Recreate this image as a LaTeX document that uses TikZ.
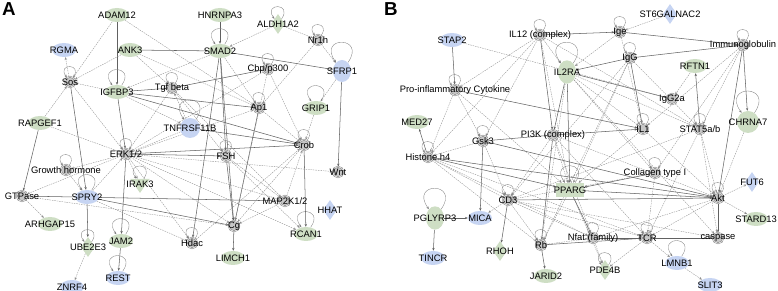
\documentclass[tikz,border=0pt]{standalone}
\usepackage{fontspec}
\setmainfont{Liberation Sans}
\usetikzlibrary{arrows.meta,shapes.geometric}
\pgfdeclarelayer{bg}\pgfsetlayers{bg,main}
\definecolor{gfill}{RGB}{206,222,196}
\definecolor{bfill}{RGB}{198,212,242}
\tikzset{>={Stealth[length=2.4pt,width=2pt]},every node/.style={font=\fontsize{8}{8}\selectfont},
gn/.style={ellipse,fill=gfill,minimum width=7.2mm,minimum height=4.2mm,inner sep=0pt},
bn/.style={gn,fill=bfill},
gv/.style={gn,minimum width=5.4mm,minimum height=7mm},bv/.style={gv,fill=bfill,minimum height=6.6mm},
gc/.style={circle,fill=gfill,minimum size=6.6mm,inner sep=0pt},bc/.style={gc,fill=bfill,minimum size=6mm},
grect/.style={rectangle,fill=gfill,minimum width=8.4mm,minimum height=4.2mm,inner sep=0pt},
gdia/.style={diamond,fill=gfill,minimum width=4.2mm,minimum height=6mm,inner sep=0pt},bdia/.style={gdia,fill=bfill},
kin/.style={isosceles triangle,isosceles triangle apex angle=70,shape border rotate=-90,fill=gfill,minimum height=4.2mm,inner sep=0pt},
gx/.style={circle,draw=black!55,double=white,double distance=.5pt,fill=black!22,minimum size=3.2mm,inner sep=0pt},
lbl/.style={inner sep=0pt},
rel/.style={->,draw=black!45,line width=.3pt,dash pattern=on 1.3pt off .8pt},
dir/.style={->,draw=black!62,line width=.45pt},
slp/.style={->,draw=black!50,line width=.3pt,loop,out=55,in=125,min distance=4.2mm,looseness=7},
panel/.style={font=\fontsize{16}{16}\selectfont\bfseries}}
\newcommand{\nd}[4]{\node[#1] (#2) at (#3) {};\node[lbl] at (#2) {#4};}

\begin{document}
\begin{tikzpicture}[x=.03cm,y=-.03cm]
\useasboundingbox (0,0) rectangle (778,291);
\node[panel] at (9,9){A};\node[panel] at (391,9){B};
% network A
\nd{gn}{adam}{117,15}{ADAM12}\nd{gn}{ank}{130,50}{ANK3}\nd{bn}{rgma}{64,50}{RGMA}\nd{gx}{sos}{70,82}{Sos}
\nd{gn}{igf}{117,92}{IGFBP3}\nd{gx}{tgf}{172,88}{Tgf beta}\nd{gn}{hnr}{220,15}{HNRNPA3}\nd{gdia}{ald}{278,24}{ALDH1A2}
\nd{gn}{smad}{220,51}{SMAD2}\nd{gx}{nr}{318,40}{Nr1h}\nd{gx}{cbp}{268,69}{Cbp/p300}\nd{bv}{sfrp}{342,71}{SFRP1}
\nd{gx}{ap}{259,108}{Ap1}\nd{gn}{grip}{316,108}{GRIP1}\nd{bc}{tnf}{190,128}{TNFRSF11B}\nd{gn}{rap}{40,123}{RAPGEF1}
\nd{gx}{erk}{126,154}{ERK1/2}\nd{gx}{gh}{66,170}{Growth hormone}\nd{kin}{irak}{140,184}{IRAK3}\nd{gx}{gtp}{22,196}{GTPase}
\nd{bn}{spry}{87,197}{SPRY2}\nd{gn}{arh}{50,224}{ARHGAP15}\nd{gdia}{ube}{88,247}{UBE2E3}\nd{gn}{jam}{121,241}{JAM2}
\nd{bn}{rest}{118,278}{REST}\nd{bn}{znrf}{72,287}{ZNRF4}\nd{gx}{hdac}{192,243}{Hdac}\nd{gx}{fsh}{226,156}{FSH}
\nd{gx}{crob}{304,145}{Crob}\nd{gx}{wnt}{338,172}{Wnt}\nd{gx}{map}{285,201}{MAP2K1/2}\nd{bdia}{hhat}{330,210}{HHAT}
\nd{gx}{cg}{234,226}{Cg}\nd{gn}{rcan}{306,234}{RCAN1}\nd{gn}{lim}{233,258}{LIMCH1}
% network B
\nd{bn}{stap}{452,40}{STAP2}\nd{gx}{il12}{540,35}{IL12 (complex)}\nd{bdia}{st6}{670,14}{ST6GALNAC2}\nd{gx}{ige}{620,32}{Ige}
\nd{gx}{imm}{743,45}{Immunoglobulin}\nd{gx}{igg}{630,58}{IgG}\nd{gv}{il2}{567,72}{IL2RA}\nd{gn}{rftn}{695,66}{RFTN1}
\nd{gx}{igga}{672,99}{IgG2a}\nd{gx}{pro}{455,90}{Pro-inflammatory Cytokine}\nd{gn}{med}{417,122}{MED27}\nd{gx}{gsk}{483,141}{Gsk3}
\nd{gx}{pik}{553,135}{PI3K (complex)}\nd{gx}{ila}{643,129}{IL1}\nd{gx}{stat}{700,129}{STAT5a/b}\nd{gc}{chr}{748,122}{CHRNA7}
\nd{gx}{his}{428,157}{Histone h4}\nd{gx}{col}{655,173}{Collagen type I}\nd{grect}{ppar}{570,190}{PPARG}\nd{gx}{akt}{718,198}{Akt}
\nd{bdia}{fut}{752,182}{FUT6}\nd{gn}{stard}{756,219}{STARD13}\nd{gx}{cdt}{508,200}{CD3}\nd{gv}{pgl}{435,218}{PGLYRP3}
\nd{bn}{mica}{480,218}{MICA}\nd{gdia}{rhoh}{500,251}{RHOH}\nd{gx}{rb}{541,245}{Rb}\nd{gx}{nfat}{593,238}{Nfat (family)}
\nd{gx}{tcr}{647,238}{TCR}\nd{gx}{casp}{718,238}{caspase}\nd{gn}{jar}{546,276}{JARID2}\nd{bn}{lmnb}{677,263}{LMNB1}
\nd{gdia}{pde}{605,270}{PDE4B}\nd{bn}{slit}{710,285}{SLIT3}\nd{bn}{tin}{433,258}{TINCR}
\begin{pgfonlayer}{bg}
\foreach \a/\b in {adam/igf,ank/smad,hnr/smad,smad/sfrp,smad/cg,smad/hdac,igf/tgf,igf/ap,igf/crob,igf/erk,tgf/cbp,sos/spry,rap/gtp,erk/fsh,erk/crob,erk/jam,gtp/map,spry/ube,spry/cg,jam/rest,fsh/cg,tnf/crob,crob/rcan,sfrp/wnt,cg/lim,ap/cg,smad/fsh}
  \draw[dir] (\a)--(\b);
\foreach \a/\b in {sos/rgma,adam/sos,ank/sos,ank/tgf,rap/sos,igf/sos,ald/smad,ald/nr,nr/sfrp,nr/ap,cbp/crob,cbp/erk,grip/crob,tnf/tgf,tnf/erk,erk/gh,erk/gtp,erk/map,erk/cg,erk/rcan,erk/hdac,erk/ap,erk/irak,gh/spry,gtp/arh,spry/erk,spry/hdac,ube/znrf,map/crob,map/cg,crob/cg,fsh/map,rap/erk,adam/ap,smad/igf,smad/ap,tgf/erk,tgf/fsh,igf/tnf,ap/crob,tgf/map,cbp/cg,sfrp/grip,gtp/cg,ank/ap,hdac/crob,sos/erk,fsh/rcan,erk/wnt}
  \draw[rel] (\a)--(\b);
\foreach \n in {sos,igf,tgf,smad,ald,nr,cbp,sfrp,ap,grip,tnf,erk,gh,irak,spry,ube,jam,rest,hdac,fsh,crob,rcan}
  \draw[slp] (\n) to (\n);
\foreach \a/\b in {stap/pro,il12/ige,il12/pik,ige/imm,igg/imm,igg/ila,igg/il2,il2/igga,il2/pik,il2/ppar,imm/chr,imm/akt,pro/ila,his/med,gsk/pik,gsk/akt,gsk/mica,pik/ila,pik/rb,his/ppar,his/akt,col/ppar,ppar/nfat,ppar/akt,cdt/akt,cdt/rhoh,pgl/mica,pgl/tin,rb/jar,rb/tcr,nfat/tcr,tcr/casp,akt/casp,stat/rftn}
  \draw[dir] (\a)--(\b);
\foreach \a/\b in {stap/igga,il12/pro,il12/gsk,il12/his,il12/il2,il12/stat,il12/ppar,st6/ige,ige/il2,igg/ppar,igg/cdt,igg/stat,il2/stat,il2/col,il2/rb,il2/ila,rftn/igga,imm/stat,imm/ila,imm/col,chr/akt,pro/his,pro/gsk,pro/ppar,gsk/his,gsk/cdt,pik/ppar,pik/cdt,pik/nfat,pik/akt,pik/tcr,ila/ppar,ila/akt,stat/akt,stat/casp,stat/cdt,stat/tcr,col/tcr,col/cdt,his/cdt,his/tcr,his/rb,his/nfat,cdt/mica,cdt/rb,cdt/tcr,cdt/casp,cdt/nfat,ppar/pde,ppar/rb,akt/fut,akt/stard,akt/tcr,akt/nfat,tcr/lmnb,tcr/pde,nfat/pde,lmnb/slit,rb/nfat,il2/casp,igg/rb,ige/ila}
  \draw[rel] (\a)--(\b);
\foreach \n in {il12,ige,imm,igg,il2,pro,gsk,ila,stat,chr,his,col,ppar,akt,cdt,pgl,rb,nfat,tcr,pde,lmnb}
  \draw[slp] (\n) to (\n);
\end{pgfonlayer}
\end{tikzpicture}
\end{document}
